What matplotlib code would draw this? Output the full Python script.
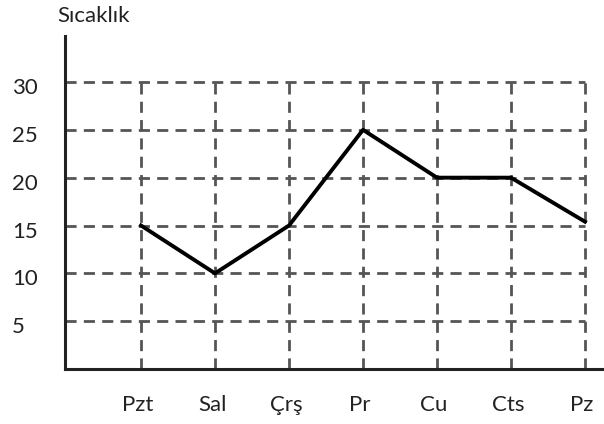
import matplotlib.pyplot as plt
from matplotlib.transforms import blended_transform_factory, ScaledTranslation

# haftanin gunleri ve sicakliklar
days = ["Pzt", "Sal", "Çrş", "Pr", "Cu", "Cts", "Pz"]
temps = [15, 10, 15, 25, 20, 20, 15.4]
y_ticks = [5, 10, 15, 20, 25, 30]

plt.rcParams["font.family"] = ["Lato", "DejaVu Sans"]

W, H = 604, 424
fig = plt.figure(figsize=(W / 100, H / 100), dpi=100)
# eksen kutusu: sol 65px, alt 369px, ust 36px
ax = fig.add_axes([65 / W, (H - 369) / H, (W - 65) / W, (369 - 36) / H])

x = list(range(len(days)))
x_left = -76 / 74
ax.set_xlim(x_left, (W - 141) / 74)
ax.set_ylim(0, (369 - 36) / ((369 - 82) / 30))

grid_kw = dict(color="#555555", linestyles=(0, (4, 2.6)), linewidth=2)
ax.hlines(y_ticks, x_left, x[-1], zorder=1, **grid_kw)
ax.vlines(x, 0, max(y_ticks), zorder=1, **grid_kw)

ax.plot(x, temps, color="black", linewidth=2.8, zorder=3)

for s in ["top", "right"]:
    ax.spines[s].set_visible(False)
for s in ["left", "bottom"]:
    ax.spines[s].set_linewidth(2.2)
    ax.spines[s].set_color("#222222")
ax.set_xticks([])
ax.set_yticks([])

# y etiketleri (sola yasli, cizginin biraz altinda)
ty = blended_transform_factory(fig.transFigure, ax.transData)
off = ScaledTranslation(0, -6 / 100, fig.dpi_scale_trans)
for v in y_ticks:
    ax.text(12 / W, v, str(v), transform=ty + off, ha="left", va="center",
            fontsize=16, color="#222222")

tx = blended_transform_factory(ax.transData, fig.transFigure)
for xi, d in zip(x, days):
    ax.text(xi - 0.04, (H - 405) / H, d, transform=tx, ha="center", va="center",
            fontsize=16, color="#222222")

fig.text(57 / W, (H - 16) / H, "Sıcaklık", ha="left", va="center",
         fontsize=16, color="#222222")

fig.savefig("out.png", dpi=100)
